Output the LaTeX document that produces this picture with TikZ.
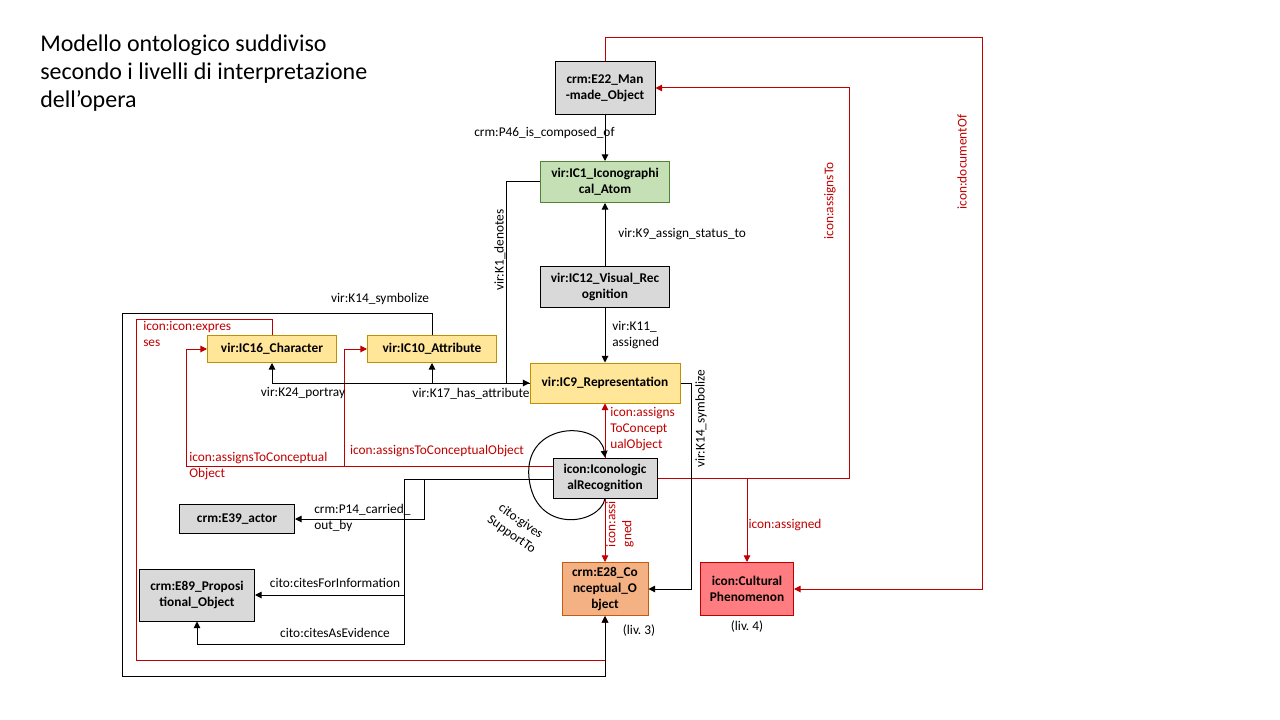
\documentclass[tikz,border=0pt]{standalone}
\usepackage{fontspec}
\setmainfont{Carlito}
\usetikzlibrary{positioning,arrows.meta,calc}

\definecolor{darkred}{RGB}{192,0,0}
\definecolor{boxgray}{RGB}{217,217,217}
\definecolor{boxgreen}{RGB}{197,224,180}
\definecolor{edgegreen}{RGB}{84,130,53}
\definecolor{boxyellow}{RGB}{255,230,153}
\definecolor{edgeyellow}{RGB}{191,144,0}
\definecolor{boxorange}{RGB}{244,177,131}
\definecolor{edgeorange}{RGB}{197,90,17}
\definecolor{boxred}{RGB}{255,124,128}

\tikzset{
  class/.style={draw, line width=0.75pt, align=center, inner sep=1pt,
    font=\bfseries\fontsize{10}{12}\selectfont},
  graycls/.style={class, fill=boxgray, draw=black},
  greencls/.style={class, fill=boxgreen, draw=edgegreen},
  yellowcls/.style={class, fill=boxyellow, draw=edgeyellow},
  orangecls/.style={class, fill=boxorange, draw=edgeorange},
  redcls/.style={class, fill=boxred, draw=darkred},
  lbl/.style={font=\fontsize{10}{12}\selectfont, inner sep=0pt},
  rlbl/.style={lbl, text=darkred},
  arr/.style={-{Triangle[length=5pt,width=5pt]}, line width=0.75pt},
  rarr/.style={arr, draw=darkred},
}

\begin{document}
\begin{tikzpicture}[x=0.75pt,y=-0.75pt]
  \useasboundingbox (0,0) rectangle (1280,720);

  \node[lbl, anchor=west, align=left, font=\fontsize{18}{21}\selectfont] (title) at (40,73)
    {Modello ontologico suddiviso\\secondo i livelli di interpretazione\\dell’opera};

  \node[graycls, minimum width=75pt, minimum height=39.75pt] (e22) at (605,88) {crm:E22\_Man\\-made\_Object};
  \node[greencls, minimum width=96.75pt, minimum height=30.75pt] (ic1) at (605,182) {vir:IC1\_Iconographi\\cal\_Atom};
  \node[graycls, minimum width=96.75pt, minimum height=30.75pt] (ic12) at (605,287) {vir:IC12\_Visual\_Rec\\ognition};
  \node[yellowcls, minimum width=112.5pt, minimum height=30pt] (ic9) at (605,383) {vir:IC9\_Representation};
  \node[yellowcls, minimum width=96.75pt, minimum height=20.25pt] (ic16) at (272,349) {vir:IC16\_Character};
  \node[yellowcls, minimum width=96.75pt, minimum height=20.25pt] (ic10) at (432,349) {vir:IC10\_Attribute};
  \node[graycls, minimum width=78pt, minimum height=30pt] (ir) at (605,478) {icon:Iconologic\\alRecognition};
  \node[graycls, minimum width=86.25pt, minimum height=21.75pt] (e39) at (237,519) {crm:E39\_actor};
  \node[graycls, minimum width=86.25pt, minimum height=39pt] (e89) at (197,595) {crm:E89\_Proposi\\tional\_Object};
  \node[orangecls, minimum width=64.5pt, minimum height=39.75pt] (e28) at (605,589) {crm:E28\_Co\\nceptual\_O\\bject};
  \node[redcls, minimum width=69.75pt, minimum height=39.75pt] (cult) at (747,589) {icon:Cultural\\Phenomenon};

  \coordinate (ir-red) at ($(ir.west)+(0,-12)$);
  \coordinate (ir-blk) at ($(ir.west)+(0,1)$);

  % red links
  \draw[rarr] (ic16.north) |- (136,319) -- (136,660) -| (e28.south);
  \draw[rarr] (ir-red) -| (186,349) -- (ic16.west);
  \draw[rarr] (ir-red) -| (344,349) -- (ic10.west);
  \draw[rarr] (ir) -- (ic9);
  \draw[rarr] (ir) -- (e28);
  \draw[rarr] (ir.east) -| (849,88) -- (e22.east);
  \draw[rarr] (cult.north |- ir.east) -- (cult.north);
  \draw[rarr] (e22.north) |- (982,38) |- (cult.east);

  % black links
  \draw[arr] (e22) -- (ic1);
  \draw[arr] (ic12) -- (ic1);
  \draw[arr] (ic12) -- (ic9);
  \draw[arr] (ic1.west) -- ++(-34,0) |- (ic9.west);
  \draw[arr] (ic9.west) -| (ic16.south);
  \draw[arr] (ic9.west) -| (ic10.south);
  \draw[arr] (ic10.north) |- (122,313) -- (122,676) -| (e28.south);
  \draw[arr] (ic9.east) -- ++(11,0) |- (e28.east);
  \draw[arr] (ir-blk) -| (424,519) -- (e39.east);
  \draw[arr] (ir-blk) -| (404,595) -- (e89.east);
  \draw[arr] (ir-blk) -| (404,644) -| (e89.south);
  \draw[arr] (ir.south) .. controls (600,525) and (535,535) .. (529,478)
    .. controls (523,421) and (600,420) .. (ir.north);

  \node[lbl, anchor=west] (l-p46) at (474,133) {crm:P46\_is\_composed\_of};
  \node[lbl, anchor=west] (l-k9) at (618,234) {vir:K9\_assign\_status\_to};
  \node[lbl, anchor=west, align=left] (l-k11) at (612,335) {vir:K11\_\\assigned};
  \node[lbl, rotate=90] (l-k1) at (500,250) {vir:K1\_denotes};
  \node[lbl] (l-k14a) at (380,299) {vir:K14\_symbolize};
  \node[lbl] (l-k24) at (303,393) {vir:K24\_portray};
  \node[lbl] (l-k17) at (471,394) {vir:K17\_has\_attribute};
  \node[lbl, rotate=90] (l-k14b) at (701,419) {vir:K14\_symbolize};
  \node[lbl, anchor=west, align=left] (l-p14) at (314,518) {crm:P14\_carried\_\\out\_by};
  \node[lbl] (l-cfi) at (335,583) {cito:citesForInformation};
  \node[lbl] (l-cae) at (335,633) {cito:citesAsEvidence};
  \node[lbl, rotate=-35, align=center] (l-gst) at (516,528) {cito:gives\\SupportTo};
  \node[lbl] (l-liv3) at (639,631) {(liv.~3)};
  \node[lbl] (l-liv4) at (747,627) {(liv.~4)};

  \node[rlbl, anchor=west, align=left] (l-expr) at (143,334) {icon:icon:expres\\ses};
  \node[rlbl, anchor=west, align=left] (l-atco1) at (189,466) {icon:assignsToConceptual\\Object};
  \node[rlbl] (l-atco2) at (437,451) {icon:assignsToConceptualObject};
  \node[rlbl, anchor=west, align=left] (l-atco3) at (610,429) {icon:assigns\\ToConcept\\ualObject};
  \node[rlbl, rotate=90, align=left] (l-asgd) at (620,524) {icon:assi\\gned};
  \node[rlbl, rotate=90] (l-at) at (830,201) {icon:assignsTo};
  \node[rlbl, rotate=90] (l-doc) at (962,162) {icon:documentOf};
  \node[rlbl] (l-asg) at (785,525) {icon:assigned};
\end{tikzpicture}
\end{document}
